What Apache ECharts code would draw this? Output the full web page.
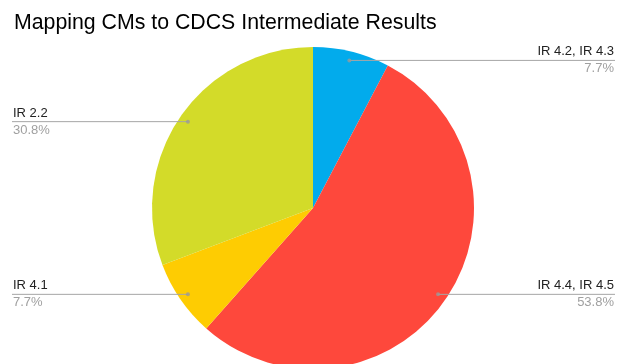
<!DOCTYPE html>
<html>
<head>
<meta charset="utf-8">
<script src="https://cdn.jsdelivr.net/npm/echarts@6/dist/echarts.min.js"></script>
<style>
  html, body { margin: 0; padding: 0; background: #fff; }
  #chart { width: 618px; height: 364px; }
</style>
</head>
<body>
<div id="chart"></div>
<script>
// Slices, clockwise from 12 o'clock
const categories = ['IR 4.2, IR 4.3', 'IR 4.4, IR 4.5', 'IR 4.1', 'IR 2.2'];
const counts = [1, 7, 1, 4];
const sliceColors = ['#02ABEC', '#FE483C', '#FECC02', '#D3DB29'];

const CENTER = [313, 208];
const RADIUS = 161;
const LEADER_RADIUS = 152;   // where the leader lines start, inside the pie
const LEFT_EDGE = 12;
const RIGHT_EDGE = 615;

const total = counts.reduce((a, b) => a + b, 0);
const pieData = categories.map((name, i) => ({
  name: name,
  value: counts[i],
  itemStyle: { color: sliceColors[i] }
}));

// angular midpoint of each slice, in data units, for the leader dots
const midpoints = [];
let acc = 0;
counts.forEach(v => { midpoints.push([LEADER_RADIUS, acc + v / 2]); acc += v; });

const chart = echarts.init(document.getElementById('chart'), null, { renderer: 'canvas' });

chart.setOption({
  animation: false,
  backgroundColor: '#ffffff',
  title: {
    text: 'Mapping CMs to CDCS Intermediate Results',
    left: 9,
    top: 8,
    textStyle: {
      fontFamily: 'Liberation Sans, Arial, sans-serif',
      fontSize: 21.3,
      fontWeight: 'normal',
      color: '#000'
    }
  },
  polar: { center: CENTER, radius: RADIUS },
  angleAxis: {
    type: 'value', min: 0, max: total, startAngle: 90, clockwise: true, show: false
  },
  radiusAxis: { type: 'value', min: 0, max: RADIUS, show: false },
  series: [
    {
      type: 'pie',
      center: CENTER,
      radius: RADIUS,
      startAngle: 90,
      clockwise: true,
      data: pieData,
      label: { show: false },
      labelLine: { show: false },
      itemStyle: { borderWidth: 0 },
      emphasis: { disabled: true },
      silent: true,
      z: 2
    },
    {
      // transparent copy carrying the labels and leader lines
      type: 'pie',
      center: CENTER,
      radius: LEADER_RADIUS,
      startAngle: 90,
      clockwise: true,
      data: pieData.map(d => ({ name: d.name, value: d.value })),
      itemStyle: { color: 'rgba(0,0,0,0)', borderWidth: 0 },
      emphasis: { disabled: true },
      silent: true,
      z: 3,
      label: {
        show: true,
        position: 'outside',
        fontFamily: 'Liberation Sans, Arial, sans-serif',
        formatter: p => '{n|' + p.name + '}\n{p|' + (p.value / total * 100).toFixed(1) + '%}',
        rich: {
          n: { fontSize: 13, color: '#222', lineHeight: 17, fontFamily: 'Liberation Sans, Arial, sans-serif' },
          p: { fontSize: 13, color: '#a0a0a0', lineHeight: 17, fontFamily: 'Liberation Sans, Arial, sans-serif' }
        }
      },
      labelLine: {
        show: true,
        length: 10,
        length2: 10,
        lineStyle: { color: '#a6a6a6', width: 1 }
      },
      labelLayout: function (params) {
        const pts = params.labelLinePoints;
        const start = pts[0];
        const isLeft = start[0] < CENTER[0];
        const endX = isLeft ? LEFT_EDGE : RIGHT_EDGE;
        return {
          x: isLeft ? LEFT_EDGE + 1 : RIGHT_EDGE - 1,
          y: start[1],
          align: isLeft ? 'left' : 'right',
          verticalAlign: 'middle',
          labelLinePoints: [start, [endX, start[1]], [endX, start[1]]]
        };
      }
    },
    {
      // small dots where the leader lines meet the slices
      type: 'scatter',
      coordinateSystem: 'polar',
      data: midpoints,
      symbol: 'circle',
      symbolSize: 4,
      itemStyle: { color: '#9a9a9a' },
      silent: true,
      z: 4
    }
  ]
});
</script>
</body>
</html>
